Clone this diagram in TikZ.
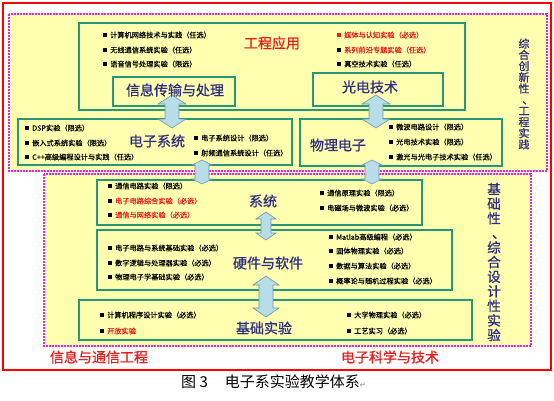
\documentclass[tikz,border=0pt]{standalone}
\usepackage{fontspec}
\setmainfont{Noto Sans CJK SC}
\newfontfamily\ttlfont{Noto Sans CJK SC}[FakeBold=0.8]
\newfontfamily\itmfont{Noto Sans CJK SC}[FakeBold=0.3]
\newfontfamily\symfont{DejaVu Sans}
\definecolor{tealb}{RGB}{40,150,120}
\definecolor{magd}{RGB}{225,40,225}
\definecolor{bgy}{RGB}{255,255,176}
\definecolor{navyt}{RGB}{45,45,130}
\definecolor{redt}{RGB}{230,30,30}
\definecolor{arrf}{RGB}{183,221,232}
\definecolor{arrd}{RGB}{110,150,165}
\newcommand\bl[1][black]{\textcolor{#1}{\rule[0.3pt]{4pt}{4pt}}\hspace{3pt}}
\newcommand\vcomma{\makebox[1em][l]{\hspace{0.35em}、}}
\newcommand\blockarr[6]{%
  \draw[arrsty] (#1-#4,#2+#6) -- (#1-#5,#2+#6) -- (#1,#2) -- (#1+#5,#2+#6) -- (#1+#4,#2+#6)
   -- (#1+#4,#3-#6) -- (#1+#5,#3-#6) -- (#1,#3) -- (#1-#5,#3-#6) -- (#1-#4,#3-#6) -- cycle;}
\tikzset{
  gbox/.style={draw=tealb, line width=2pt, fill=bgy, anchor=north west, inner sep=0pt, outer sep=0pt},
  itm/.style={anchor=west, inner sep=0pt, font=\itmfont\fontsize{7.2}{8}\selectfont},
  ttl/.style={inner sep=0pt, text=navyt, font=\ttlfont\fontsize{14}{14}\selectfont},
  rttl/.style={inner sep=0pt, text=redt, font=\ttlfont\fontsize{14}{14}\selectfont},
  arrsty/.style={fill=arrf, draw=arrd, line width=0.6pt, line join=miter},
  magbox/.style={draw=magd, line width=1.8pt, dash pattern=on 1.6pt off 1.4pt, fill=bgy},
}
\begin{document}
\begin{tikzpicture}[x=1pt,y=-1pt]
\useasboundingbox (0,0) rectangle (554,400);
\draw[red, line width=1.5pt, fill=white] (3,3) rectangle (551,370);
\draw[magbox] (9,14) rectangle (547,171);
\draw[magbox] (44,174) rectangle (531,346);
% boxes
\node[gbox, minimum width=386pt, minimum height=87pt] (gc) at (79,23) {};
\node[gbox, minimum width=122pt, minimum height=29pt] (xx) at (113,77) {};
\node[gbox, minimum width=130pt, minimum height=33pt] (gd) at (313,73) {};
\node[gbox, minimum width=274pt, minimum height=46pt] (dz) at (18,119) {};
\node[gbox, minimum width=202pt, minimum height=47pt] (wl) at (300,119) {};
\node[gbox, minimum width=325pt, minimum height=45pt] (xt) at (97,180) {};
\node[gbox, minimum width=355pt, minimum height=60pt] (yj) at (97,230) {};
\node[gbox, minimum width=393pt, minimum height=40pt] (jc) at (79,300) {};
% block arrows
\blockarr{172}{95}{128}{7}{14}{9}
\blockarr{376}{95}{128}{7}{14}{9}
\blockarr{202}{160}{184}{7}{10}{5}
\blockarr{372}{160}{184}{7}{10}{5}
\blockarr{266}{212}{240}{5}{10}{7}
\blockarr{266}{276}{317}{7}{13}{9}
% titles
\node[rttl] (tgc) at (272,43) {工程应用};
\node[ttl] (txx) at (175,90) {信息传输与处理};
\node[ttl] (tgd) at (370,87) {光电技术};
\node[ttl] (tdz) at (157,141) {电子系统};
\node[ttl] (twl) at (338,145) {物理电子};
\node[ttl] (txt) at (263,201) {系统};
\node[ttl] (tyj) at (268,263) {硬件与软件};
\node[ttl] (tjc) at (264,328) {基础实验};
% items
\node[itm] (i1) at (103,35) {\bl 计算机网络技术与实践（任选）};
\node[itm] (i2) at (103,50) {\bl 无线通信系统实验（任选）};
\node[itm] (i3) at (103,64) {\bl 语音信号处理实验（限选）};
\node[itm, text=redt] (i4) at (337,35) {\bl[redt]媒体与认知实验（必选）};
\node[itm, text=redt] (i5) at (337,50) {\bl 系列前沿专题实验（任选）};
\node[itm] (i6) at (337,64) {\bl 真空技术实验（任选）};
\node[itm] (i7) at (25,128) {\bl DSP实验（限选）};
\node[itm] (i8) at (25,143) {\bl 嵌入式系统实验（限选）};
\node[itm] (i9) at (25,157) {\bl C++高级编程设计与实践（任选）};
\node[itm] (i10) at (194,138) {\bl 电子系统设计（限选）};
\node[itm] (i11) at (194,153) {\bl 射频通信系统设计（任选）};
\node[itm] (i12) at (389,127) {\bl 微波电路设计（限选）};
\node[itm] (i13) at (389,142) {\bl 光电技术实验（限选）};
\node[itm] (i14) at (389,157) {\bl 激光与光电子技术实验（任选）};
\node[itm] (i15) at (108,186) {\bl 通信电路实验（限选）};
\node[itm, text=redt] (i16) at (108,201) {\bl 电子电路综合实验（必选）};
\node[itm, text=redt] (i17) at (108,215) {\bl 通信与网络实验（必选）};
\node[itm] (i18) at (320,193) {\bl 通信原理实验（限选）};
\node[itm] (i19) at (320,208) {\bl 电磁场与微波实验（必选）};
\node[itm] (i20) at (108,248) {\bl 电子电路与系统基础实验（必选）};
\node[itm] (i21) at (108,263) {\bl 数字逻辑与处理器实验（必选）};
\node[itm] (i22) at (108,277) {\bl 物理电子学基础实验（必选）};
\node[itm] (i23) at (329,237) {\bl Matlab高级编程（必选）};
\node[itm] (i24) at (329,251) {\bl 固体物理实验（必选）};
\node[itm] (i25) at (329,266) {\bl 数据与算法实验（必选）};
\node[itm] (i26) at (329,281) {\bl 概率论与随机过程实验（必选）};
\node[itm] (i27) at (100,315) {\bl 计算机程序设计实验（必选）};
\node[itm, text=redt] (i28) at (100,331) {\bl 开放实验};
\node[itm] (i29) at (347,315) {\bl 大学物理实验（必选）};
\node[itm] (i30) at (347,331) {\bl 工艺实习（必选）};
% vertical labels
\node[inner sep=0pt, text=navyt, font=\ttlfont\fontsize{11}{11.2}\selectfont, text width=11pt, align=center] (v1) at (524,94)
  {综\\合\\创\\新\\性\\\vcomma\\工\\程\\实\\践};
\node[inner sep=0pt, text=navyt, font=\ttlfont\fontsize{13.5}{14.6}\selectfont, text width=14pt, align=center] (v2) at (494,262)
  {基\\础\\性\\\vcomma\\综\\合\\设\\计\\性\\实\\验};
% bottom labels
\node[rttl] (b1) at (99,357) {信息与通信工程};
\node[rttl] (b2) at (390,357) {电子科学与技术};
% caption
\node[anchor=west, inner sep=0pt, font=\fontsize{15}{15}\selectfont] (cap) at (181,382)
  {图 3\hspace{17pt}电子系实验教学体系{\color{gray}\symfont\fontsize{7}{7}\selectfont ↵}};
\end{tikzpicture}
\end{document}
